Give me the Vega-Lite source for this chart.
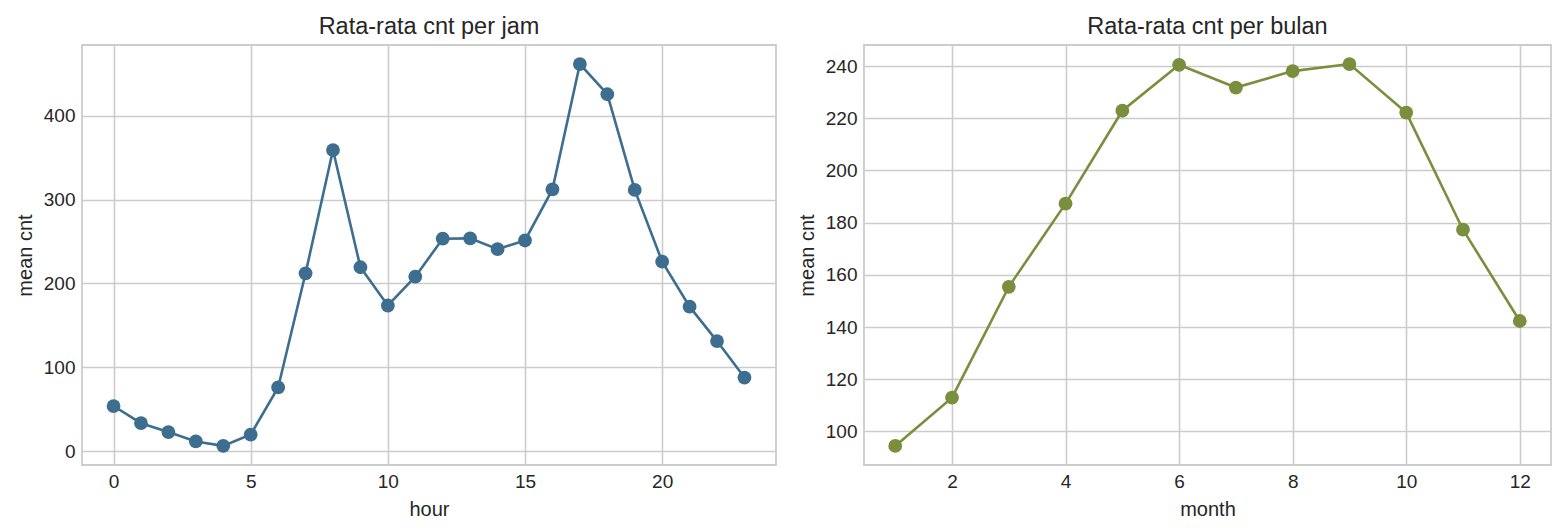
{
  "$schema": "https://vega.github.io/schema/vega-lite/v6.json",
  "padding": {"left": 14, "top": 13, "right": 0, "bottom": 0},
  "spacing": 19,
  "datasets": {
    "perHour": [
      {"hour": 0, "cnt": 53.9}, {"hour": 1, "cnt": 33.4}, {"hour": 2, "cnt": 22.9},
      {"hour": 3, "cnt": 11.7}, {"hour": 4, "cnt": 6.4}, {"hour": 5, "cnt": 19.9},
      {"hour": 6, "cnt": 76.0}, {"hour": 7, "cnt": 212.1}, {"hour": 8, "cnt": 359.0},
      {"hour": 9, "cnt": 219.3}, {"hour": 10, "cnt": 173.7}, {"hour": 11, "cnt": 208.1},
      {"hour": 12, "cnt": 253.3}, {"hour": 13, "cnt": 253.7}, {"hour": 14, "cnt": 240.9},
      {"hour": 15, "cnt": 251.2}, {"hour": 16, "cnt": 312.0}, {"hour": 17, "cnt": 461.5},
      {"hour": 18, "cnt": 425.5}, {"hour": 19, "cnt": 311.5}, {"hour": 20, "cnt": 226.0},
      {"hour": 21, "cnt": 172.3}, {"hour": 22, "cnt": 131.3}, {"hour": 23, "cnt": 87.8}
    ],
    "perMonth": [
      {"month": 1, "cnt": 94.4}, {"month": 2, "cnt": 112.9}, {"month": 3, "cnt": 155.4},
      {"month": 4, "cnt": 187.3}, {"month": 5, "cnt": 222.9}, {"month": 6, "cnt": 240.5},
      {"month": 7, "cnt": 231.8}, {"month": 8, "cnt": 238.1}, {"month": 9, "cnt": 240.8},
      {"month": 10, "cnt": 222.2}, {"month": 11, "cnt": 177.3}, {"month": 12, "cnt": 142.3}
    ]
  },
  "hconcat": [
    {
      "width": 694, "height": 420,
      "title": "Rata-rata cnt per jam",
      "data": {"name": "perHour"},
      "mark": {"type": "line", "color": "#3d6e8f", "strokeWidth": 2.6,
               "point": {"filled": true, "size": 190, "color": "#3d6e8f", "opacity": 1}},
      "encoding": {
        "x": {"field": "hour", "type": "quantitative", "title": "hour",
              "scale": {"domain": [-1.15, 24.15], "nice": false, "zero": false},
              "axis": {"values": [0, 5, 10, 15, 20]}},
        "y": {"field": "cnt", "type": "quantitative", "title": "mean cnt",
              "scale": {"domain": [-16.4, 484.2], "nice": false, "zero": false},
              "axis": {"values": [0, 100, 200, 300, 400]}}
      }
    },
    {
      "width": 687, "height": 420,
      "title": "Rata-rata cnt per bulan",
      "data": {"name": "perMonth"},
      "mark": {"type": "line", "color": "#7a8f3d", "strokeWidth": 2.6,
               "point": {"filled": true, "size": 190, "color": "#7a8f3d", "opacity": 1}},
      "encoding": {
        "x": {"field": "month", "type": "quantitative", "title": "month",
              "scale": {"domain": [0.45, 12.55], "nice": false, "zero": false},
              "axis": {"values": [2, 4, 6, 8, 10, 12]}},
        "y": {"field": "cnt", "type": "quantitative", "title": "mean cnt",
              "scale": {"domain": [87.1, 248.1], "nice": false, "zero": false},
              "axis": {"values": [100, 120, 140, 160, 180, 200, 220, 240]}}
      }
    }
  ],
  "config": {
    "font": "Liberation Sans",
    "view": {"stroke": "#cccccc", "strokeWidth": 1.8},
    "title": {"fontSize": 23.5, "fontWeight": "normal", "color": "#262626", "offset": 7},
    "axis": {
      "domain": false, "ticks": false, "tickSize": 0,
      "grid": true, "gridColor": "#cccccc", "gridWidth": 1.6, "gridOpacity": 1,
      "labelFontSize": 19, "labelColor": "#262626", "labelPadding": 7,
      "titleFontSize": 20, "titleFontWeight": "normal", "titleColor": "#262626",
      "titlePadding": 8, "labelFlush": false, "labelOverlap": false
    }
  }
}
